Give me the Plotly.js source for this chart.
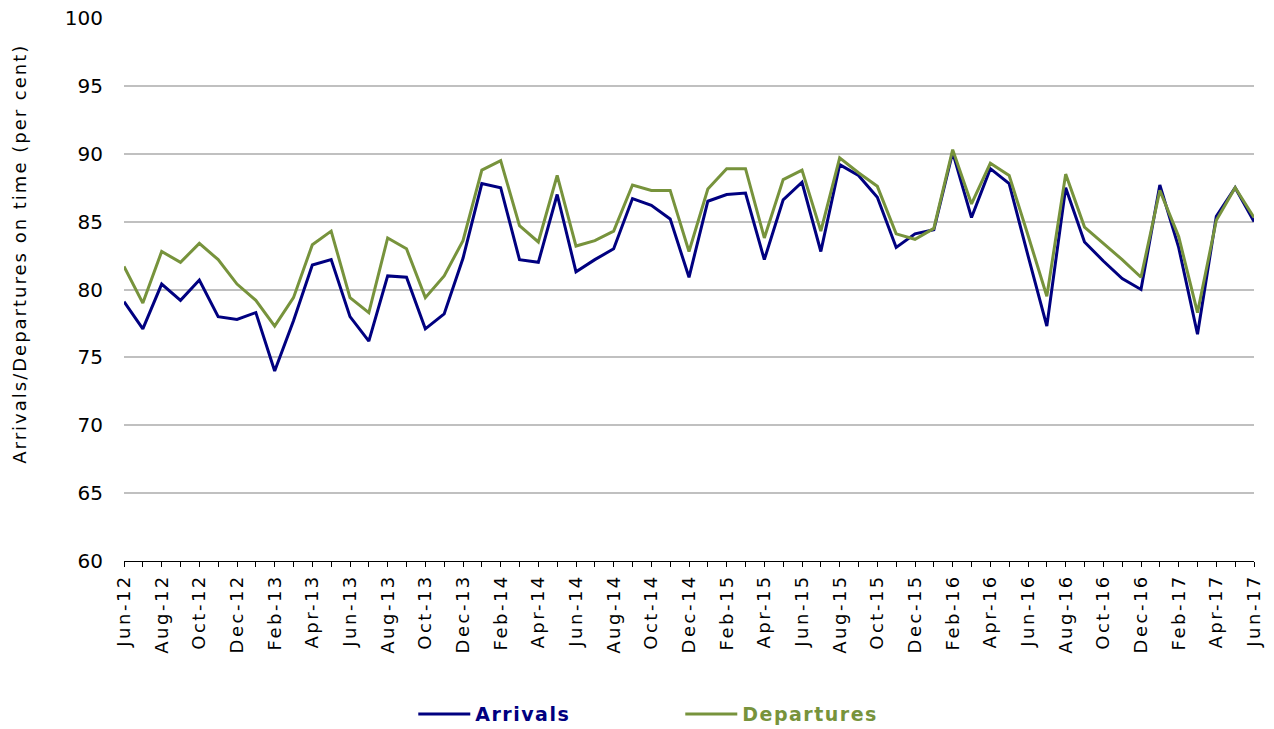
<!DOCTYPE html>
<html><head><meta charset="utf-8">
<script src="https://cdn.plot.ly/plotly-3.0.1.min.js"></script>
<style>
html,body{margin:0;padding:0;background:#fff;}
#chart{width:1274px;height:729px;}
.xtick text{letter-spacing:2.5px;}
.annotation-text{letter-spacing:2px;}
.legendtext{letter-spacing:1.5px;}
</style></head><body><div id="chart"></div>
<script>
const months = ['Jun-12','Jul-12','Aug-12','Sep-12','Oct-12','Nov-12','Dec-12',
  'Jan-13','Feb-13','Mar-13','Apr-13','May-13','Jun-13','Jul-13','Aug-13','Sep-13','Oct-13','Nov-13','Dec-13',
  'Jan-14','Feb-14','Mar-14','Apr-14','May-14','Jun-14','Jul-14','Aug-14','Sep-14','Oct-14','Nov-14','Dec-14',
  'Jan-15','Feb-15','Mar-15','Apr-15','May-15','Jun-15','Jul-15','Aug-15','Sep-15','Oct-15','Nov-15','Dec-15',
  'Jan-16','Feb-16','Mar-16','Apr-16','May-16','Jun-16','Jul-16','Aug-16','Sep-16','Oct-16','Nov-16','Dec-16',
  'Jan-17','Feb-17','Mar-17','Apr-17','May-17','Jun-17'];

const tickLabels = ['Jun-12','','Aug-12','','Oct-12','','Dec-12',
  '','Feb-13','','Apr-13','','Jun-13','','Aug-13','','Oct-13','','Dec-13',
  '','Feb-14','','Apr-14','','Jun-14','','Aug-14','','Oct-14','','Dec-14',
  '','Feb-15','','Apr-15','','Jun-15','','Aug-15','','Oct-15','','Dec-15',
  '','Feb-16','','Apr-16','','Jun-16','','Aug-16','','Oct-16','','Dec-16',
  '','Feb-17','','Apr-17','','Jun-17'];

const arrivals = [79.1,77.1,80.4,79.2,80.7,78.0,77.8,78.3,74.0,77.7,
  81.8,82.2,78.0,76.2,81.0,80.9,77.1,78.2,82.3,87.8,
  87.5,82.2,82.0,87.0,81.3,82.2,83.0,86.7,86.2,85.2,
  80.9,86.5,87.0,87.1,82.2,86.6,87.9,82.8,89.2,88.4,
  86.8,83.1,84.1,84.4,90.1,85.3,88.9,87.8,82.5,77.3,
  87.5,83.5,82.1,80.8,80.0,87.7,83.1,76.7,85.4,87.5,85.0];

const departures = [81.7,79.0,82.8,82.0,83.4,82.2,80.4,79.2,77.3,79.4,
  83.3,84.3,79.4,78.3,83.8,83.0,79.4,81.0,83.6,88.8,
  89.5,84.7,83.5,88.4,83.2,83.6,84.3,87.7,87.3,87.3,
  82.8,87.4,88.9,88.9,83.8,88.1,88.8,84.3,89.7,88.6,
  87.6,84.1,83.7,84.5,90.3,86.3,89.3,88.4,84.0,79.5,
  88.5,84.6,83.4,82.2,80.9,87.3,83.9,78.3,85.1,87.5,85.3];

const seriesNames = ['Arrivals','Departures'];
const seriesColors = ['#000080','#77933C'];
const yTitle = 'Arrivals/Departures on time (per cent)';

const traces = [arrivals, departures].map((vals, k) => ({
  type: 'scatter',
  mode: 'lines',
  x: months,
  y: vals,
  name: '<span style="color:' + seriesColors[k] + '"><b>' + seriesNames[k] + '</b></span>',
  line: {color: seriesColors[k], width: 3},
  hoverinfo: 'x+y'
}));

const layout = {
  width: 1274, height: 729,
  margin: {l: 124, r: 20, t: 18, b: 168, autoexpand: false},
  paper_bgcolor: '#ffffff',
  plot_bgcolor: '#ffffff',
  font: {family: 'DejaVu Sans, Verdana, sans-serif', color: '#000000', size: 18},
  xaxis: {
    type: 'category',
    range: [0, 60],
    tickvals: months,
    ticktext: tickLabels,
    tickangle: -90,
    ticks: 'outside',
    ticklen: 5,
    tickwidth: 1,
    tickcolor: '#000000',
    showline: true,
    linecolor: '#000000',
    linewidth: 1,
    showgrid: false,
    zeroline: false,
    automargin: false,
    tickfont: {family: 'DejaVu Sans, Verdana, sans-serif', size: 18, color: '#000000'}
  },
  yaxis: {
    range: [60, 100],
    dtick: 5,
    tick0: 60,
    showgrid: true,
    gridcolor: '#c0c0c0',
    gridwidth: 2,
    showline: false,
    zeroline: false,
    ticks: '',
    automargin: false,
    ticklabelstandoff: 20,
    tickfont: {family: 'DejaVu Sans, Verdana, sans-serif', size: 20, color: '#000000'}
  },
  annotations: [{
    text: yTitle,
    xref: 'paper', yref: 'paper',
    x: -0.092, y: 0.566,
    xanchor: 'center', yanchor: 'middle',
    textangle: -90,
    showarrow: false,
    font: {family: 'DejaVu Sans, Verdana, sans-serif', size: 18, color: '#000000'}
  }],
  showlegend: true,
  legend: {
    orientation: 'h',
    x: 0.256, xanchor: 'left',
    y: -0.282, yanchor: 'middle',
    itemwidth: 52,
    entrywidth: 200,
    entrywidthmode: 'pixels',
    traceorder: 'normal',
    font: {family: 'DejaVu Sans, Verdana, sans-serif', size: 19},
    bgcolor: 'rgba(0,0,0,0)'
  }
};

Plotly.newPlot('chart', traces, layout, {displayModeBar: false, staticPlot: true});
</script></body></html>
